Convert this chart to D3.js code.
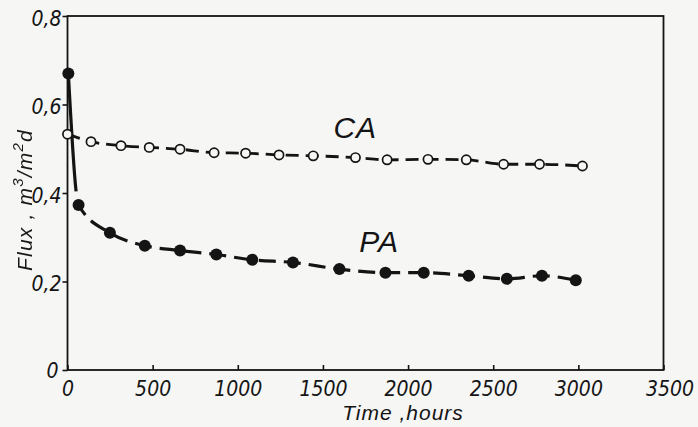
<!DOCTYPE html>
<html><head><meta charset="utf-8">
<script src="https://cdn.jsdelivr.net/npm/d3@7"></script>
<style>
html,body{margin:0;padding:0;background:#f6f6f4;}
svg{display:block;}
.lbl{font-family:"Liberation Sans Narrow","DejaVu Sans Condensed","Liberation Sans",sans-serif;font-style:italic;}
.ttl{font-family:"Liberation Sans","DejaVu Sans",sans-serif;font-style:italic;}
.ytitle{opacity:0.99;will-change:transform;}
</style></head>
<body>
<script>
// ---- data ----
const xTicks = [0, 500, 1000, 1500, 2000, 2500, 3000, 3500];
const yTicks = [0, 0.2, 0.4, 0.6, 0.8];
const caHours = [0, 138, 314, 480, 661, 861, 1046, 1242, 1443, 1691, 1877, 2117, 2342, 2561, 2772, 3024];
const caFlux  = [0.533, 0.516, 0.507, 0.503, 0.499, 0.491, 0.490, 0.486, 0.484, 0.480, 0.475, 0.476, 0.475, 0.465, 0.465, 0.461];
const paHours = [5, 65, 249, 454, 661, 874, 1085, 1324, 1597, 1867, 2092, 2356, 2580, 2786, 2985];
const paFlux  = [0.670, 0.373, 0.310, 0.281, 0.270, 0.261, 0.249, 0.243, 0.228, 0.220, 0.220, 0.213, 0.206, 0.213, 0.203];
const seriesNames = ["CA", "PA"];
const labelHours = [1690, 1830];
const labelFlux  = [0.525, 0.266];
const xTitle = "Time ,hours";

const W = 698, H = 427;
const ink = "#141414", bg = "#f6f6f4";
const svg = d3.select("body").append("svg").attr("width", W).attr("height", H);
svg.append("rect").attr("width", W).attr("height", H).attr("fill", bg);

const x = d3.scaleLinear().domain([0, 3500]).range([67.5, 663.5]);
const y = d3.scaleLinear().domain([0, 0.8]).range([370, 16]);
const fmt = d => d === 0 ? "0" : d3.format(".1f")(d).replace(".", ",");

// frame
svg.append("rect").attr("x", x(0)).attr("y", y(0.8))
  .attr("width", x(3500) - x(0)).attr("height", y(0) - y(0.8))
  .attr("fill", "none").attr("stroke", ink).attr("stroke-width", 1.8);

// axes
const gx = svg.append("g").attr("transform", `translate(0,${y(0)})`)
  .call(d3.axisBottom(x).tickValues(xTicks).tickSize(-5).tickPadding(11).tickFormat(d => String(d)));
const gy = svg.append("g").attr("transform", `translate(${x(0)},0)`)
  .call(d3.axisLeft(y).tickValues(yTicks).tickSize(5).tickPadding(1).tickFormat(fmt));
[gx, gy].forEach(g => {
  g.select(".domain").remove();
  g.selectAll("line").attr("stroke", ink).attr("stroke-width", 1.6);
  g.selectAll("text").attr("class", "lbl").attr("font-size", 21).attr("fill", ink);
});
gy.selectAll("text").attr("dy", "0.45em");
gx.selectAll(".tick").filter(d => d === 3500).select("text").attr("dx", 6);
gy.selectAll(".tick").filter(d => d === 0).select("text").attr("dx", -3).attr("dy", "0.35em");

// titles
svg.append("text").attr("class", "ttl").attr("fill", ink).attr("x", 403).attr("y", 420)
  .attr("text-anchor", "middle").attr("font-size", 21).attr("letter-spacing", 1).text(xTitle);
const yt = svg.append("text").attr("class", "ttl ytitle").attr("fill", ink)
  .attr("transform", "translate(32,200) rotate(-90)")
  .attr("text-anchor", "middle").attr("font-size", 21).attr("letter-spacing", 1.2);
yt.append("tspan").text("Flux , m");
yt.append("tspan").attr("dy", -9).attr("font-size", 15).text("3");
yt.append("tspan").attr("dy", 9).text("/m");
yt.append("tspan").attr("dy", -9).attr("font-size", 15).text("2");
yt.append("tspan").attr("dy", 9).text("d");

// lines
const ca = caHours.map((h, i) => [h, caFlux[i]]);
const pa = paHours.map((h, i) => [h, paFlux[i]]);
const line = d3.line().x(d => x(d[0])).y(d => y(d[1])).curve(d3.curveMonotoneX);

svg.append("path").attr("d", line(ca)).attr("fill", "none").attr("stroke", ink)
  .attr("stroke-width", 2.8).attr("stroke-dasharray", "13,7");

const paPath = svg.append("path").attr("d", line(pa)).attr("fill", "none").attr("stroke", ink)
  .attr("stroke-width", 3.2);
// solid start up to near second point, then dashes
const node = paPath.node();
const total = node.getTotalLength();
let solid = 0;
const target = y(paFlux[1]) - 14;
for (let l = 0; l < total; l += 0.5) {
  if (node.getPointAtLength(l).y >= target) { solid = l; break; }
}
const dashes = [solid, 9];
let acc = solid + 9;
while (acc < total + 40) { dashes.push(17, 8); acc += 25; }
paPath.attr("stroke-dasharray", dashes.join(","));

// markers
svg.append("g").selectAll("circle").data(ca).join("circle")
  .attr("cx", d => x(d[0])).attr("cy", d => y(d[1])).attr("r", 4.6)
  .attr("fill", bg).attr("stroke", ink).attr("stroke-width", 1.7);
svg.append("g").selectAll("circle").data(pa).join("circle")
  .attr("cx", d => x(d[0])).attr("cy", d => y(d[1])).attr("r", 6)
  .attr("fill", ink);

// series labels
svg.append("g").selectAll("text").data(seriesNames).join("text")
  .attr("class", "ttl").attr("fill", ink).attr("x", (d, i) => x(labelHours[i])).attr("y", (d, i) => y(labelFlux[i]))
  .attr("text-anchor", "middle").attr("font-size", 30).attr("letter-spacing", 1).text(d => d);
</script>
</body></html>
